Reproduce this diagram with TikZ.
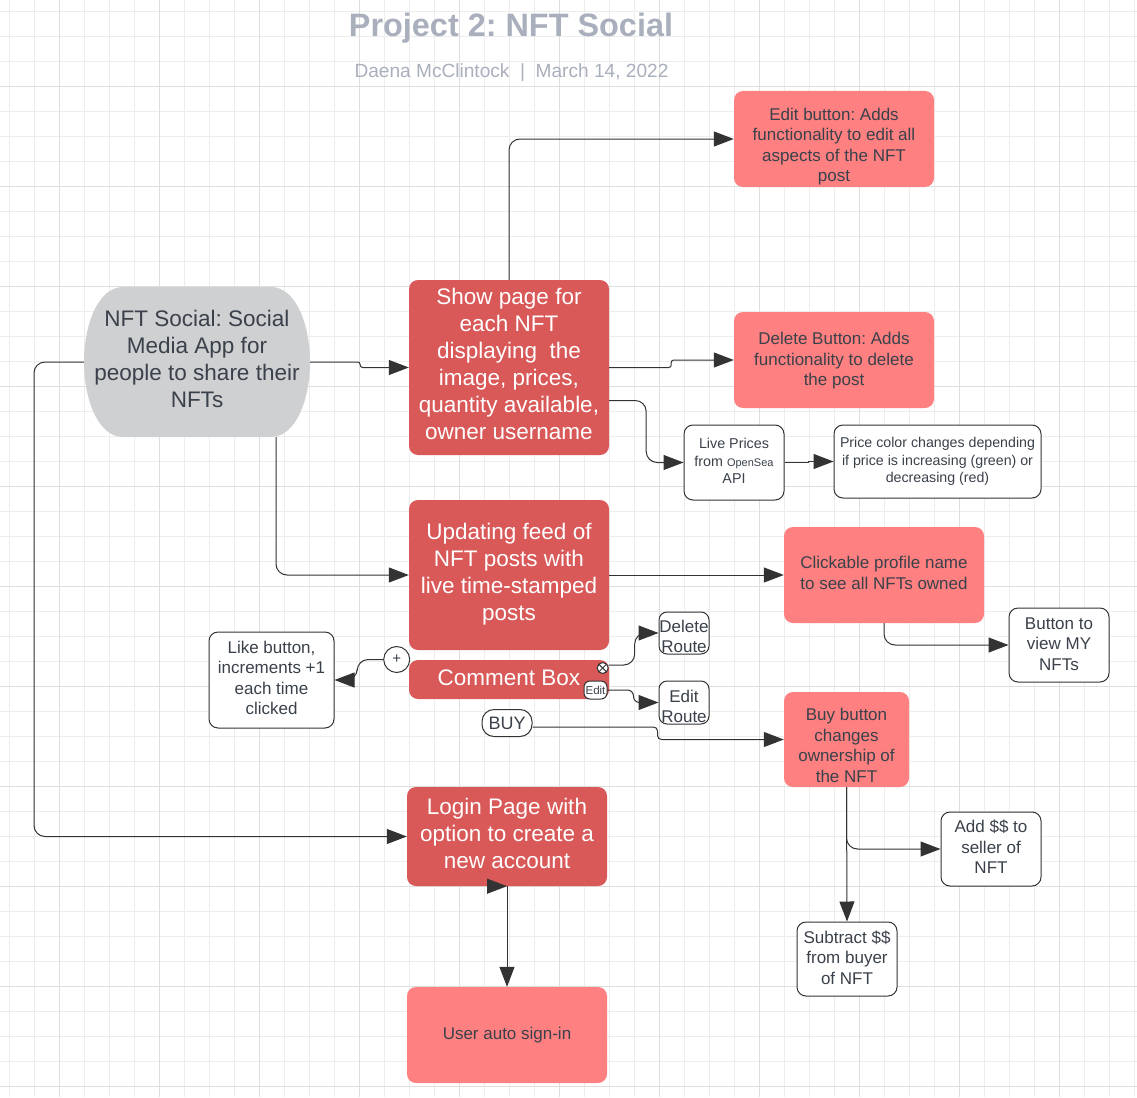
\documentclass[tikz,border=0pt]{standalone}
\usepackage{fontspec}
\setmainfont{Liberation Sans}
\usetikzlibrary{arrows.meta}
\definecolor{redfill}{HTML}{D95858}
\definecolor{pinkfill}{HTML}{FF8080}
\definecolor{greyfill}{HTML}{CFD0D2}
\definecolor{inkc}{HTML}{3A414A}
\definecolor{linec}{HTML}{333333}
\definecolor{titlec}{HTML}{A9AFBC}
\definecolor{gridminor}{HTML}{EDEDED}
\definecolor{gridmajor}{HTML}{DEDEDE}
\newcommand{\liftup}[1]{\rule[-#1pt]{0pt}{#1pt}}
\newcommand{\pushdown}[1]{\rule{0pt}{#1pt}}
\tikzset{
  x=1pt,y=-1pt,
  redbox/.style={rectangle,rounded corners=9pt,fill=redfill,text=white,align=center,inner sep=0pt,
    font=\fontsize{22.5}{27}\selectfont},
  pinkbox/.style={rectangle,rounded corners=9pt,fill=pinkfill,text=inkc,align=center,inner sep=0pt,
    font=\fontsize{17}{20.5}\selectfont},
  whitebox/.style={rectangle,rounded corners=9pt,draw=linec,line width=1pt,fill=white,text=inkc,align=center,inner sep=0pt,
    font=\fontsize{17}{20.5}\selectfont},
  conn/.style={draw=linec,line width=1pt,rounded corners=11pt,-{Triangle[length=20pt,width=15pt,fill=linec]}},
  size/.style n args={2}{minimum width=#1,minimum height=#2},
}
\begin{document}
\frenchspacing
\begin{tikzpicture}
\useasboundingbox (0,0) rectangle (1137,1097);
\fill[white] (0,0) rectangle (1137,1097);
% grid
\foreach \gx in {9.5,34.5,...,1137}{\draw[gridminor,line width=.8pt] (\gx,0) -- (\gx,1097);}
\foreach \gy in {11.5,36.5,...,1097}{\draw[gridminor,line width=.8pt] (0,\gy) -- (1137,\gy);}
\foreach \gx in {59.5,159.5,...,1137}{\draw[gridmajor,line width=.8pt] (\gx,0) -- (\gx,1097);}
\foreach \gy in {86.5,186.5,...,1097}{\draw[gridmajor,line width=.8pt] (0,\gy) -- (1137,\gy);}
% titles
\node[text=titlec,font=\fontsize{32.4}{36}\selectfont\bfseries,inner sep=0pt] (title) at (511,28) {Project 2: NFT Social};
\node[text=titlec,font=\fontsize{19.1}{22}\selectfont,inner sep=0pt] (sub) at (511.5,73) {Daena McClintock\ \ |\ \ March 14, 2022};
% main shape of the start node: flat top and bottom, long curved sides
\fill[greyfill] (123,287) -- (271,287) .. controls (296,287) and (310,325) .. (310,362)
  .. controls (310,399) and (296,437) .. (271,437) -- (123,437)
  .. controls (98,437) and (84,399) .. (84,362) .. controls (84,325) and (98,287) .. (123,287) -- cycle;
\node[rectangle,text=inkc,align=center,inner sep=0pt,size={226pt}{150pt},
  font=\fontsize{22.5}{27}\selectfont] (nft) at (197,362) {NFT Social: Social\\Media App for\\people to share their\\NFTs\liftup{6}};
\node[redbox,size={200pt}{175pt}] (show) at (509,367.5) {Show page for\\each NFT\\displaying\ \ the\\image, prices,\\quantity available,\\owner username\liftup{8}};
\node[redbox,size={200pt}{150pt}] (feed) at (509,575) {Updating feed of\\NFT posts with\\live time-stamped\\posts\liftup{6}};
\node[redbox,size={200pt}{39pt}] (comment) at (509,679.5) {Comment Box\liftup{4}};
\node[redbox,size={200pt}{99pt}] (login) at (507,836.5) {Login Page with\\option to create a\\new account\liftup{6}};
\node[pinkbox,size={200pt}{96pt}] (edit) at (834,139) {\pushdown{27.4}Edit button: Adds\\functionality to edit all\\aspects of the NFT\\post};
\node[pinkbox,size={200pt}{96pt}] (del) at (834,360) {\pushdown{14.4}Delete Button: Adds\\functionality to delete\\the post};
\node[pinkbox,size={200pt}{96pt}] (profile) at (884,575) {Clickable profile name\\to see all NFTs owned\liftup{4}};
\node[pinkbox,size={125pt}{95pt}] (buybox) at (846.5,739.5) {\pushdown{24.4}Buy button\\changes\\ownership of\\the NFT};
\node[pinkbox,size={200pt}{96pt}] (signin) at (507,1035) {User auto sign-in};
\node[whitebox,size={100pt}{75pt},font=\fontsize{14.3}{17.5}\selectfont] (live) at (734,462.5) {Live Prices\\from {\fontsize{11}{17.5}\selectfont OpenSea}\\API\liftup{3}};
\node[whitebox,size={207pt}{73pt},font=\fontsize{14.2}{17.5}\selectfont] (price) at (937.5,461.5) {Price color changes depending\\if price is increasing (green) or\\decreasing (red)};
\node[whitebox,size={100pt}{74pt}] (button) at (1059,645) {Button to\\view MY\\NFTs\liftup{2}};
\node[whitebox,size={125pt}{96pt}] (like) at (271.5,680) {Like button,\\increments +1\\each time\\clicked\liftup{4}};
\node[whitebox,size={50pt}{42pt},rounded corners=8pt,font=\fontsize{17}{20.5}\selectfont] (delroute) at (684,633) {\pushdown{19}Delete\\Route};
\node[whitebox,size={50pt}{43pt},rounded corners=8pt,font=\fontsize{17}{20.5}\selectfont] (editroute) at (684,702.5) {\pushdown{20}Edit\\Route};
\node[whitebox,size={50pt}{27pt},rounded corners=12pt,font=\fontsize{18}{20.5}\selectfont] (buy) at (507,723) {BUY};
\node[whitebox,size={100pt}{74pt}] (addd) at (991,849) {Add \$\$ to\\seller of\\NFT\liftup{4}};
\node[whitebox,size={100pt}{74pt}] (subd) at (847,959) {Subtract \$\$\\from buyer\\of NFT\liftup{3}};
\node[whitebox,circle,minimum size=26pt,font=\fontsize{15}{15}\selectfont] (plus) at (396.7,659.5) {+};
\node[whitebox,size={23pt}{18pt},rounded corners=6pt,font=\fontsize{11.5}{12}\selectfont] (editmini) at (595.5,690) {Edit};
\node[circle,draw=linec,line width=1pt,fill=white,minimum size=11pt,inner sep=0pt] (xmark) at (602.7,668) {};
\draw[linec,line width=1pt] ([shift={(-3.9pt,-3.9pt)}]xmark.center) -- ([shift={(3.9pt,3.9pt)}]xmark.center);
\draw[linec,line width=1pt] ([shift={(-3.9pt,3.9pt)}]xmark.center) -- ([shift={(3.9pt,-3.9pt)}]xmark.center);
% connectors
\coordinate (leftrail) at (34,600);
\draw[conn] (show.north) |- (edit.west);
\draw[conn,rounded corners=2.5pt] (show.east) -- ++(62,0) |- (del.west);
\draw[conn] ([yshift=-33pt]show.east) -- ++(37,0) |- (live.west);
\draw[conn,sharp corners] (live.east) -- ++(24,0) |- (price.west);
\draw[conn,rounded corners=2.5pt] (nft.east) -- ++(50,0) |- (show.west);
\draw[conn] ([xshift=79pt]nft.south) |- (feed.west);
\draw[conn] (nft.west) -| (leftrail) |- (login.west);
\draw[conn] (feed.east) -- (profile.west);
\draw[conn] (profile.south) |- (button.west);
\draw[conn] (plus.west) -- ++(-26,0) |- (like.east);
\draw[conn] ([yshift=3pt]xmark.east) -- ++(26,0) |- (delroute.west);
\draw[conn,rounded corners=6pt] (editmini.east) -- ++(26,0) |- (editroute.west);
\draw[conn,rounded corners=4pt] ([yshift=-4pt]buy.east) -- ++(125,0) |- (buybox.west);
\draw[conn] (buybox.south) -- (subd.north);
\draw[conn] (buybox.south) |- (addd.west);
\draw[conn] (login.south) -- (signin.north);
\draw[conn] ([xshift=-20pt]login.south) -- (login.south);
\end{tikzpicture}
\end{document}
